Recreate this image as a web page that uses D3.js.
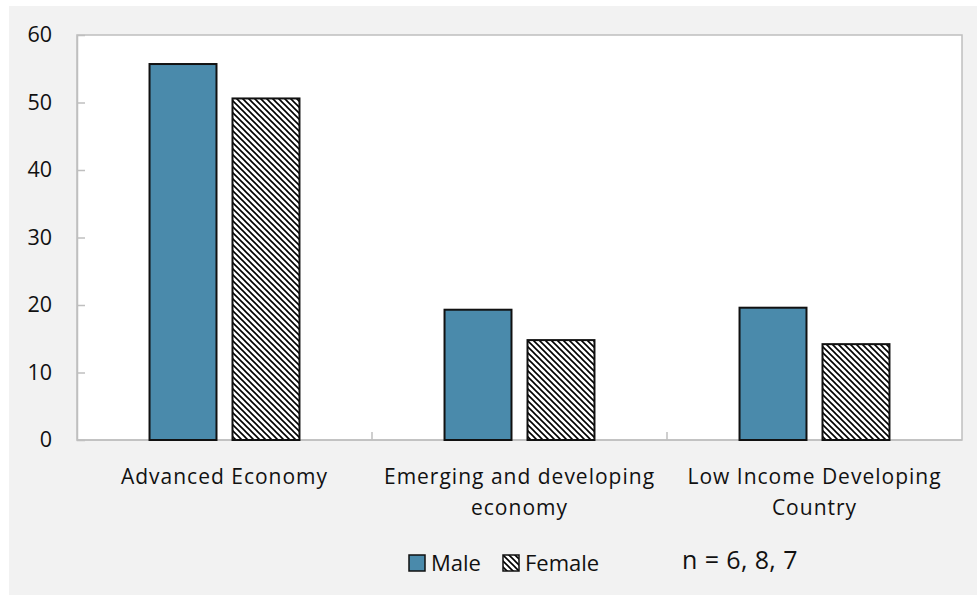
<!DOCTYPE html>
<html>
<head>
<meta charset="utf-8">
<script src="https://cdn.jsdelivr.net/npm/d3@7"></script>
<style>
  body { margin: 0; background: #fff; }
  svg { display: block; }
  text { font-family: "Open Sans", "Noto Sans", sans-serif; fill: #111; }
</style>
</head>
<body>
<svg id="chart"></svg>
<script>
// data
const categories = [["Advanced Economy"], ["Emerging and developing", "economy"], ["Low Income Developing", "Country"]];
const seriesNames = ["Male", "Female"];
const male = [55.7, 19.3, 19.6];
const female = [50.6, 14.8, 14.2];
const yTicks = [0, 10, 20, 30, 40, 50, 60];
const note = "n = 6, 8, 7";

const width = 977, height = 595;
const margin = { top: 35, right: 15, bottom: 155, left: 77 };
const innerW = width - margin.left - margin.right;
const innerH = height - margin.top - margin.bottom;

const svg = d3.select('#chart')
  .attr('width', width)
  .attr('height', height);

// hatch pattern for female bars
const defs = svg.append('defs');
const pat = defs.append('pattern')
  .attr('id', 'hatch')
  .attr('patternUnits', 'userSpaceOnUse')
  .attr('width', 6)
  .attr('height', 6);
pat.append('rect').attr('width', 6).attr('height', 6).attr('fill', '#fff');
pat.append('path')
  .attr('d', 'M-1,-1 L7,7 M-4,2 L1,7 M2,-4 L7,1')
  .attr('stroke', '#000')
  .attr('stroke-width', 1.6);

// gray panel
svg.append('rect')
  .attr('x', 9).attr('y', 6)
  .attr('width', width - 9).attr('height', height - 6)
  .attr('fill', '#f2f2f2');

const g = svg.append('g').attr('transform', `translate(${margin.left},${margin.top})`);

g.append('rect')
  .attr('width', innerW).attr('height', innerH)
  .attr('fill', '#fff')
  .attr('stroke', '#bfbfbf')
  .attr('stroke-width', 1.5);

const x0 = d3.scaleBand()
  .domain(d3.range(categories.length))
  .range([0, innerW]);

const x1 = d3.scaleBand()
  .domain(seriesNames)
  .range([0, x0.bandwidth()])
  .paddingInner(0.193)
  .paddingOuter(0.874);

const y = d3.scaleLinear().domain([0, 60]).range([innerH, 0]);

// y axis
const yAxis = g.append('g')
  .call(d3.axisLeft(y).tickValues(yTicks).tickSize(-8).tickPadding(25));
yAxis.select('.domain').attr('stroke', '#bfbfbf').attr('stroke-width', 1.5);
yAxis.selectAll('.tick line').attr('stroke', '#bfbfbf').attr('stroke-width', 1.5);
yAxis.selectAll('.tick text')
  .style('font-size', '21.5px')
  .attr('fill', '#111')
  .style('font-family', '"Open Sans", "Noto Sans", sans-serif');
yAxis.selectAll('.tick').filter(d => d === 0 || d === 60).select('line').remove();

// x axis: category separators
const xAxis = g.append('g').attr('transform', `translate(0,${innerH})`);
xAxis.append('line')
  .attr('x1', 0).attr('x2', innerW)
  .attr('stroke', '#bfbfbf').attr('stroke-width', 1.5);
xAxis.selectAll('.sep')
  .data(d3.range(1, categories.length))
  .join('line')
  .attr('class', 'sep')
  .attr('x1', d => x0(d)).attr('x2', d => x0(d))
  .attr('y1', 0).attr('y2', -8)
  .attr('stroke', '#bfbfbf').attr('stroke-width', 1.5);

const labels = xAxis.selectAll('.cat')
  .data(categories)
  .join('text')
  .attr('class', 'cat')
  .attr('text-anchor', 'middle')
  .attr('transform', (d, i) => `translate(${x0(i) + x0.bandwidth() / 2},44)`)
  .style('font-size', '21px')
  .style('letter-spacing', '1px');
labels.selectAll('tspan')
  .data(d => d)
  .join('tspan')
  .attr('x', 0)
  .attr('dy', (d, i) => i === 0 ? 0 : 31)
  .text(d => d);

// bars
const groups = g.selectAll('.grp')
  .data(categories.map((c, i) => ({ i, vals: [male[i], female[i]] })))
  .join('g')
  .attr('class', 'grp')
  .attr('transform', d => `translate(${x0(d.i)},0)`);

groups.selectAll('rect')
  .data(d => d.vals.map((v, k) => ({ key: seriesNames[k], v })))
  .join('rect')
  .attr('x', d => x1(d.key))
  .attr('width', x1.bandwidth())
  .attr('y', d => y(d.v))
  .attr('height', d => y(0) - y(d.v))
  .attr('fill', d => d.key === 'Male' ? '#4a8aab' : 'url(#hatch)')
  .attr('stroke', '#111')
  .attr('stroke-width', 2);

// legend
const legend = svg.append('g').attr('transform', 'translate(409,555)');
const items = legend.selectAll('g')
  .data(seriesNames)
  .join('g')
  .attr('transform', (d, i) => `translate(${i * 94},0)`);
items.append('rect')
  .attr('width', 16).attr('height', 16)
  .attr('fill', d => d === 'Male' ? '#4a8aab' : 'url(#hatch)')
  .attr('stroke', '#111')
  .attr('stroke-width', 1.5);
items.append('text')
  .attr('x', 22).attr('y', 15.5)
  .style('font-size', '22px')
  .text(d => d);

svg.append('text')
  .attr('x', 682).attr('y', 569)
  .style('font-size', '25px')
  .style('letter-spacing', '0.4px')
  .text(note);
</script>
</body>
</html>
